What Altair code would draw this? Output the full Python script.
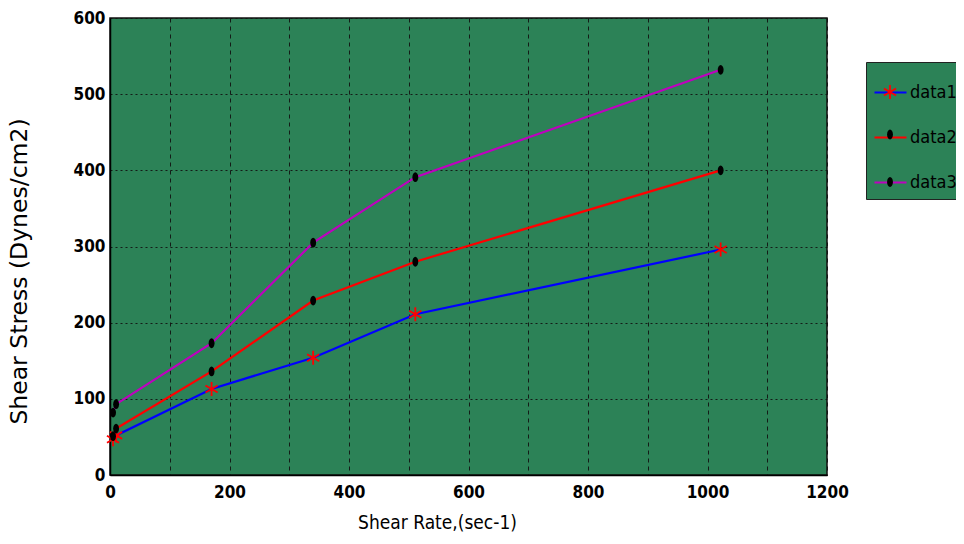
import altair as alt
import pandas as pd

# ---- data ----
shear_rate = [5.1, 10.2, 170, 340, 511, 1022]
data1 = [47, 52, 113, 154, 211, 296]
data2 = [51, 61, 136, 229, 280, 400]
data3 = [82, 93, 173, 305, 391, 532]
series_names = ["data1", "data2", "data3"]
line_colors = ["#0000ff", "#ff0000", "#bf00bf"]
star_color = "#ff0000"
dot_color = "#000000"

x_ticks = list(range(0, 1201, 100))
y_ticks = list(range(0, 601, 50))

rows = []
for name, vals in zip(series_names, [data1, data2, data3]):
    for xv, yv in zip(shear_rate, vals):
        rows.append({"x": xv, "y": yv, "series": name, "sa": name, "sb": name})
df = pd.DataFrame(rows)

GREEN = "#2c8257"
COND = "DejaVu Sans Condensed"

asterisk = "M0,-1L0,1M-0.87,-0.5L0.87,0.5M-0.87,0.5L0.87,-0.5"
ellipse = "M0.42,0A0.42,0.7 0 1 1 -0.42,0A0.42,0.7 0 1 1 0.42,0Z"
blank = "M0,0"

LEG_X, LEG_Y = 756, 44
LEG_PAD, LEG_ROWPAD, LEG_FS = 7, 18, 18

x_enc = alt.X(
    "x:Q",
    scale=alt.Scale(domain=[0, 1200], nice=False, zero=False),
    axis=alt.Axis(
        values=x_ticks,
        format="d",
        labelExpr="datum.value % 200 == 0 ? datum.label : ''",
        labelOverlap=False,
        labelFlush=False,
        grid=True,
        gridDash=[4, 4],
        gridColor="#111111",
        gridOpacity=0.9,
        ticks=False,
        domainColor="#000000",
        domainWidth=1.5,
        labelFont=COND,
        labelFontSize=17,
        labelFontWeight="bold",
        labelColor="#000000",
        labelPadding=9,
        title="Shear Rate,(sec-1)",
        titleFont=COND,
        titleFontSize=19,
        titleFontWeight="normal",
        titleColor="#000000",
        titleX=327,
        titleY=47,
        titleAlign="center",
        titleBaseline="middle",
    ),
)
y_enc = alt.Y(
    "y:Q",
    scale=alt.Scale(domain=[0, 600], nice=False),
    axis=alt.Axis(
        values=y_ticks,
        format="d",
        labelExpr="datum.value % 100 == 0 ? datum.label : ''",
        labelOverlap=False,
        labelFlush=False,
        grid=True,
        gridDash=[2, 3],
        gridColor="#111111",
        gridOpacity=0.9,
        ticks=False,
        domainColor="#000000",
        domainWidth=1.5,
        labelFont=COND,
        labelFontSize=17,
        labelFontWeight="bold",
        labelColor="#000000",
        labelPadding=5,
        title="Shear Stress (Dynes/cm2)",
        titleFont="DejaVu Sans",
        titleFontSize=23.5,
        titleFontWeight="normal",
        titleColor="#000000",
        titleAngle=270,
        titleX=-91,
        titleY=253,
        titleAlign="center",
        titleBaseline="middle",
    ),
)

lines = alt.Chart(df).mark_line(strokeWidth=2.2).encode(
    x=x_enc,
    y=y_enc,
    stroke=alt.Stroke(
        "series:N",
        scale=alt.Scale(domain=series_names, range=line_colors),
        legend=alt.Legend(
            title=" ",
            titleFontSize=4,
            titlePadding=2,
            orient="none",
            legendX=LEG_X,
            legendY=LEG_Y,
            symbolType="stroke",
            symbolSize=1024,
            symbolStrokeWidth=2.2,
            fillColor=GREEN,
            strokeColor="#222222",
            padding=LEG_PAD,
            rowPadding=LEG_ROWPAD,
            labelOffset=2,
            labelFont=COND,
            labelFontSize=LEG_FS,
            labelColor="#000000",
            labelLimit=80,
        ),
    ),
)


def marker_legend(fill, stroke):
    return alt.Legend(
        title=None,
        orient="none",
        legendX=LEG_X,
        legendY=LEG_Y + 15,
        symbolSize=196,
        symbolStrokeWidth=1.8,
        symbolOffset=9,
        symbolFillColor=fill,
        symbolStrokeColor=stroke,
        symbolOpacity=1,
        fillColor="transparent",
        strokeColor="transparent",
        padding=LEG_PAD,
        rowPadding=29.5,
        labelOffset=0,
        labelExpr="''",
        labelFontSize=1,
        labelLimit=1,
    )


stars = alt.Chart(df).mark_point(
    filled=False, size=196, strokeWidth=1.8, color=star_color, opacity=1
).encode(
    x="x:Q",
    y="y:Q",
    shape=alt.Shape(
        "sa:N",
        scale=alt.Scale(range=[asterisk, blank, blank]),
        legend=marker_legend("transparent", star_color),
    ),
)

dots = alt.Chart(df).mark_point(
    filled=True, size=196, strokeWidth=0, color=dot_color, opacity=1
).encode(
    x="x:Q",
    y="y:Q",
    shape=alt.Shape(
        "sb:N",
        scale=alt.Scale(range=[blank, ellipse, ellipse]),
        legend=marker_legend(dot_color, "transparent"),
    ),
)

chart = (
    alt.layer(lines, stars, dots)
    .resolve_scale(stroke="independent", shape="independent")
    .properties(
        width=717,
        height=457,
        padding={"left": 102, "top": 10, "right": 129, "bottom": 61},
        autosize=alt.AutoSizeParams(type="none"),
        background="#ffffff",
    )
    .configure_view(fill=GREEN, stroke="#111111", strokeWidth=1.5)
)

chart.save("out.html", embed_options={"renderer": "svg", "actions": False})
